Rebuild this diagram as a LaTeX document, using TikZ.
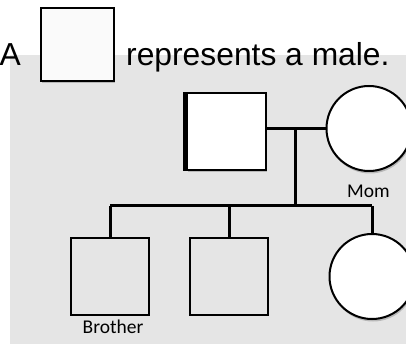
\documentclass[tikz,border=0pt]{standalone}
\usepackage{fontspec}
\setmainfont{Liberation Sans}
\newfontfamily\calib{Carlito}
\usetikzlibrary{shadows}
\tikzset{
  x=1pt, y=-1pt,
  bg/.style={fill=black!10, draw=none},
  shd/.style={drop shadow={shadow xshift=1pt, shadow yshift=-2.5pt, opacity=0.35, fill=black!60}},
  pline/.style={line width=3pt},
  kidbox/.style={draw, line width=1.3pt, minimum width=78pt, minimum height=77pt, inner sep=0pt},
  fem/.style={circle, draw, fill=white, line width=2pt, minimum size=85pt, inner sep=0pt, shd},
  lbl/.style={font=\calib\fontsize{19.5}{22}\selectfont, inner sep=0pt, anchor=base},
  head/.style={font=\fontsize{31.8}{36}\selectfont, inner sep=0pt, anchor=base west}
}
\begin{document}
\begin{tikzpicture}
\useasboundingbox (0,0) rectangle (406,344);
\fill[bg] (10,55) rectangle (406,344);
% legend
\node[head] (A) at (-0.5,66) {A};
\node[draw, line width=1.5pt, fill=black!2, minimum width=73pt, minimum height=73pt, inner sep=0pt, shd] (legend) at (77.5,44.5) {};
\node[head] (txt) at (126,66) {represents a male.};
% parents
\fill (183,92) rectangle (188.5,171);
\node[draw, fill=white, line width=2pt, minimum width=79pt, minimum height=77pt, inner sep=0pt, shd] (dad) at (226,131.5) {};
\node[fem] (mom) at (369,128.5) {};
\node[lbl] (momlbl) at (368.5,198) {Mom};
\coordinate (m) at (295,129);
\coordinate (s) at (295,206);
\draw[pline] (m -| dad.east) -- (m -| mom.west);
\draw[pline] (m) -- (s);
% children
\node[kidbox] (bro) at (110,276.5) {};
\node[kidbox] (sib) at (229,276.5) {};
\node[fem] (sis) at (372,276.5) {};
\node[lbl] (brolbl) at (113,333) {Brother};
\draw[pline] (s -| bro.north) -- (s -| sis.north);
\draw[pline] (s -| bro.north) -- (bro.north);
\draw[pline] (s -| sib.north) -- (sib.north);
\draw[pline] (s -| sis.north) -- (sis.north);
\end{tikzpicture}
\end{document}
